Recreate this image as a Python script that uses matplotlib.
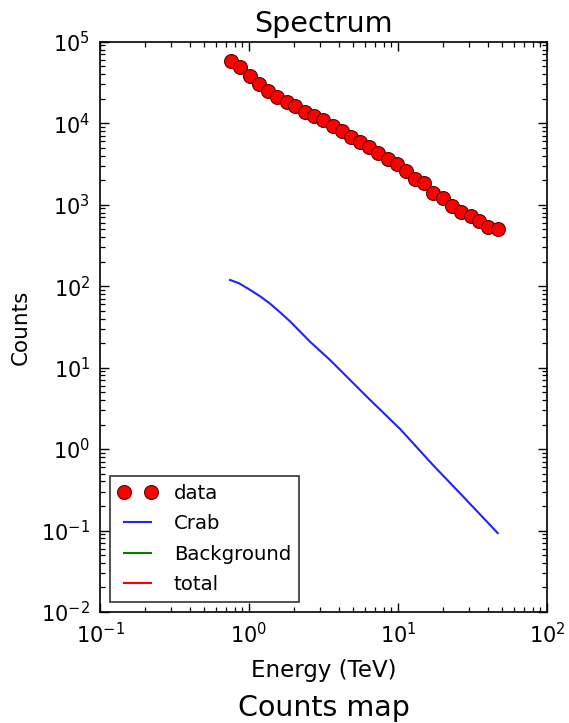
import matplotlib
matplotlib.use("Agg")
import matplotlib.pyplot as plt
from matplotlib.ticker import LogLocator, LogFormatterSciNotation, NullFormatter

# Energy bin centres (TeV) and observed counts
energy = [0.754, 0.870, 1.016, 1.167, 1.347, 1.549, 1.791, 2.045, 2.387, 2.731,
          3.123, 3.645, 4.191, 4.815, 5.559, 6.418, 7.377, 8.53, 9.80, 11.32,
          13.01, 14.95, 17.10, 20.14, 22.93, 26.35, 30.75, 35.13, 40.36, 47.12]
counts = [58480, 48930, 38260, 30010, 24840, 20790, 18050, 16260, 13720, 12360,
          10950, 9240, 8020, 6830, 5830, 5100, 4270, 3610, 3130, 2555,
          2050, 1830, 1380, 1219, 964, 821, 733, 631, 537, 508]

# Model predictions
crab_energy = [0.746, 0.86, 1.016, 1.20, 1.383, 1.62, 1.884, 2.567, 3.498, 4.764,
               6.49, 10.31, 17.26, 28.0, 46.7]
crab_counts = [119, 108, 90, 74, 61.0, 47.5, 37.0, 20.8, 12.4, 7.06,
               4.02, 1.77, 0.63, 0.25, 0.093]
background_energy = []
background_counts = []
total_energy = []
total_counts = []

W, H = 569, 723
fig = plt.figure(figsize=(W / 100, H / 100), dpi=100)
ax = fig.add_axes([100 / W, 1 - 612 / H, 447 / W, (612 - 41.7) / H])

ax.plot(energy, counts, "o", color="red", markeredgecolor="#600000",
        markeredgewidth=0.8, markersize=10, label="data")
ax.plot(crab_energy, crab_counts, "-", color="#2222ff", lw=1.5, label="Crab")
ax.plot(background_energy, background_counts, "-", color="green", lw=1.5, label="Background")
ax.plot(total_energy, total_counts, "-", color="red", lw=1.5, label="total")

ax.set_xscale("log")
ax.set_yscale("log")
ax.set_xlim(0.1, 100)
ax.set_ylim(1e-2, 1e5)

for axis in (ax.xaxis, ax.yaxis):
    axis.set_major_locator(LogLocator(base=10, numticks=20))
    axis.set_minor_locator(LogLocator(base=10, subs=range(2, 10), numticks=20))
    axis.set_major_formatter(LogFormatterSciNotation())
    axis.set_minor_formatter(NullFormatter())

ax.tick_params(which="both", direction="in", top=True, right=True, colors="black")
ax.tick_params(which="major", length=6.5, width=1.0, labelsize=15, pad=7)
ax.tick_params(which="minor", length=3.5, width=0.9)
for s in ax.spines.values():
    s.set_linewidth(1.2)
    s.set_color("black")

ax.set_title("Spectrum", fontsize=20.5, pad=7)
ax.set_xlabel("Energy (TeV)", fontsize=16.5, labelpad=9)
ax.set_ylabel("Counts", fontsize=15.5, labelpad=8)

leg = ax.legend(loc="lower left", numpoints=2, fontsize=14.2, frameon=True,
                fancybox=False, borderpad=0.4, handlelength=2.0,
                handletextpad=0.85, labelspacing=0.58, borderaxespad=0.5)
leg.get_frame().set_edgecolor("black")
leg.get_frame().set_linewidth(1.2)

fig.text(323.5 / W, 1 - 708 / H, "Counts map", fontsize=20.5, ha="center", va="center")

fig.savefig("out.png", dpi=100, facecolor="white")
